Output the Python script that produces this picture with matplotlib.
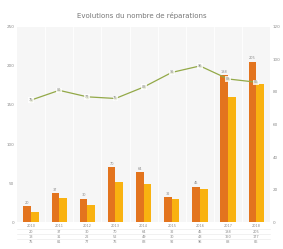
import numpy as np
import matplotlib.pyplot as plt

# data
years = ["2010", "2011", "2012", "2013", "2014", "2015", "2016", "2017", "2018"]
demandes = [20, 37, 30, 70, 64, 32, 45, 188, 205]
reparations = [13, 31, 22, 52, 49, 30, 43, 160, 177]
taux = [75, 81, 77, 76, 83, 92, 96, 88, 86]

c_orange = "#e3741e"
c_yellow = "#f9b210"
c_green = "#93a948"
c_text = "#8a8a8a"

fig = plt.figure(figsize=(2.83, 2.49), dpi=100)
ax = fig.add_axes([0.06, 0.108, 0.895, 0.784])
ax.set_facecolor("#f6f6f6")

x = np.arange(len(years))
w = 0.27
ax.bar(x - w / 2, demandes, w, color=c_orange, zorder=2)
ax.bar(x + w / 2, reparations, w, color=c_yellow, zorder=2)
for xi, v in zip(x, demandes):
    ax.text(xi - w / 2, v + 2, str(v), ha="center", va="bottom", fontsize=2.5, color=c_text)

ax.set_xlim(-0.5, len(years) - 0.5)
ax.set_ylim(0, 250)
ax.set_yticks(range(0, 251, 50))
ax.set_xticks([])
for xi in x[:-1]:
    ax.axvline(xi + 0.5, color="white", lw=0.6, zorder=1)
ax.tick_params(axis="y", labelsize=3, colors=c_text, length=0, pad=2)
for s in ax.spines.values():
    s.set_visible(False)

ax2 = ax.twinx()
ax2.plot(x, taux, color=c_green, lw=0.9, marker="o", ms=1.5, zorder=3)
for xi, v in zip(x, taux):
    ax2.text(xi, v, str(v), ha="center", va="center", fontsize=2.5, color=c_text,
             bbox=dict(boxstyle="square,pad=0.2", fc="white", ec="none", alpha=0.8))
ax2.set_ylim(0, 120)
ax2.set_yticks(range(0, 121, 20))
ax2.tick_params(axis="y", labelsize=3, colors=c_text, length=0, pad=2)
for s in ax2.spines.values():
    s.set_visible(False)

fig.text(0.5, 0.937, "Evolutions du nombre de réparations", ha="center", va="center",
         fontsize=5, color="#777777")

# data table under the axis
rows = [years, [str(v) for v in demandes], [str(v) for v in reparations], [str(v) for v in taux]]
row_y = [-0.02, -0.05, -0.075, -0.1]
trans = ax.get_xaxis_transform()
for ry, row in zip(row_y, rows):
    for xi, t in zip(x, row):
        ax.text(xi, ry, t, transform=trans, ha="center", va="center", fontsize=2.5,
                color=c_text, clip_on=False)
for ry in [-0.035, -0.062, -0.088]:
    ax.plot([-0.5, len(years) - 0.5], [ry, ry], transform=trans, color="#e6e6e6",
            lw=0.4, clip_on=False)

fig.savefig("out.png", dpi=100, facecolor="white")
